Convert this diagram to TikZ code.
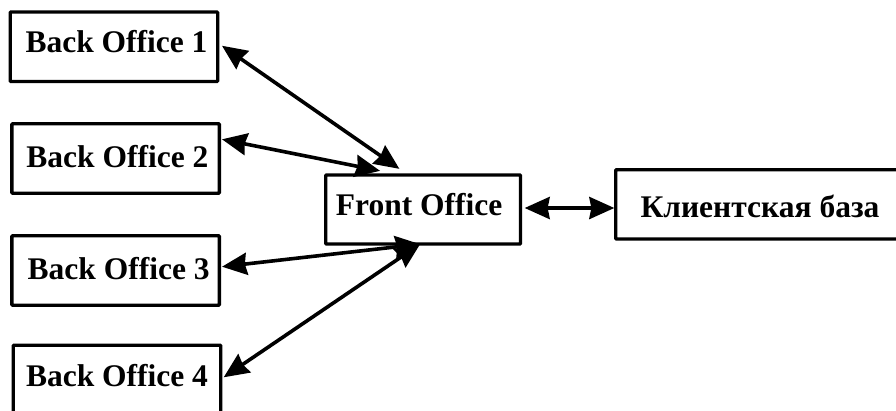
\documentclass[tikz,border=0pt]{standalone}
\usepackage{fontspec}
\setmainfont{Liberation Serif}
\usetikzlibrary{arrows.meta}
\tikzset{
  officebox/.style={draw=black,line width=3.3pt,rounded corners=0.8pt,fill=white,inner sep=0pt,
    font=\fontsize{31.5}{36}\selectfont\bfseries,text=black},
  backbox/.style={officebox,minimum width=207.5pt,minimum height=69.5pt},
  lowered/.style={text height=#1,text depth=0pt},
  link/.style={line width=3.6pt,black,{Stealth[length=25pt,width=22pt,inset=2pt]}-{Stealth[length=25pt,width=22pt,inset=2pt]}}
}
\begin{document}
\begin{tikzpicture}[x=1pt,y=-1pt]
\useasboundingbox (0,0) rectangle (896,410);
\clip (0,0) rectangle (896,410);
\fill[white] (0,0) rectangle (896,410);
\node[backbox,lowered=12pt] (b1) at (113.9,46.75) {\hspace*{5.2pt}Back Office 1};
\node[backbox,lowered=17pt] (b2) at (115.6,158.5) {\hspace*{3.6pt}Back Office 2};
\node[backbox,lowered=17pt] (b3) at (115.6,270.5) {\hspace*{6.2pt}Back Office 3};
\node[backbox,lowered=12pt] (b4) at (117,380) {Back Office 4};
\node[officebox,minimum width=194.8pt,minimum height=69pt,lowered=11pt] (f) at (423.1,209.5) {\hspace*{-8pt}Front Office};
\node[officebox,minimum width=288.6pt,minimum height=69.3pt,lowered=26pt] (k) at (760,204.3) {Клиентская база};
\draw[link] ([shift={(2.7,-1)}]b1.east) -- ([shift={(-23.7,-4.5)}]f.north);
\draw[link] ([shift={(1,-19.2)}]b2.east) -- ([shift={(-43,-2.5)}]f.north);
\draw[link] ([shift={(1,-3.8)}]b3.east) -- ([shift={(-3,-1.5)}]f.south);
\draw[link] ([shift={(1.3,-2.7)}]b4.east) -- ([shift={(-3,-1.5)}]f.south);
\draw[link] ([shift={(2.5,-1.5)}]f.east) -- ([shift={(0.3,3.7)}]k.west);
\end{tikzpicture}
\end{document}
